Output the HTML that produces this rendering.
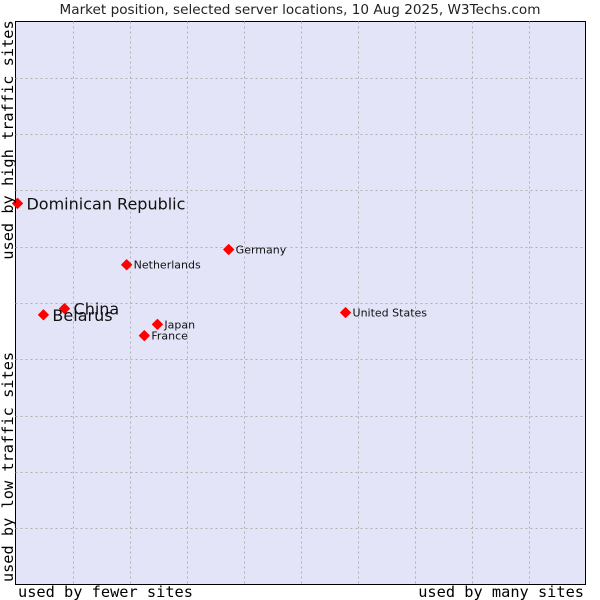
<!DOCTYPE html>
<html><head><meta charset="utf-8"><style>
body{margin:0;background:#fff;width:600px;height:600px;overflow:hidden}
svg{display:block}
</style></head><body>
<svg id="chart" width="600" height="600">
<text x="300" y="14" text-anchor="middle" font-family="DejaVu Sans, sans-serif" font-size="13.6" fill="#222">Market position, selected server locations, 10 Aug 2025, W3Techs.com</text>
<rect x="15.5" y="21.5" width="570" height="563" fill="#e4e4f8" stroke="#000" stroke-width="1"/>
<g id="grid"></g>
<g id="points"></g>
<text transform="translate(13,140) rotate(-90)" text-anchor="middle" font-family="DejaVu Sans Mono, Liberation Mono, monospace" font-size="15.3" fill="#000">used by high traffic sites</text>
<text transform="translate(13,467) rotate(-90)" text-anchor="middle" font-family="DejaVu Sans Mono, Liberation Mono, monospace" font-size="15.3" fill="#000">used by low traffic sites</text>
<text x="18" y="597" font-family="DejaVu Sans Mono, Liberation Mono, monospace" font-size="15.3" fill="#000">used by fewer sites</text>
<text x="584" y="597" text-anchor="end" font-family="DejaVu Sans Mono, Liberation Mono, monospace" font-size="15.3" fill="#000">used by many sites</text>
</svg>
<script>
const names=["Dominican Republic","China","Belarus","Netherlands","Germany","Japan","France","United States"];
const xValues=[0.35,8.6,4.9,19.5,37.4,24.9,22.6,57.9];
const yValues=[67.7,49.0,47.9,56.8,59.5,46.2,44.2,48.3];
const bigLabel=[true,true,true,false,false,false,false,false];
const L=15.5,T=21.5,W=570,H=563;
const sx=v=>L+v/100*W, sy=v=>T+H-v/100*H;
const NS="http://www.w3.org/2000/svg";
const grid=document.getElementById('grid');
for(let i=1;i<10;i++){
  const v=document.createElementNS(NS,'line');
  
  
  const x=Math.round(sx(i*10))+0.5;
  v.setAttribute('x1',x);v.setAttribute('x2',x);v.setAttribute('y1',T);v.setAttribute('y2',T+H);
  v.setAttribute('stroke','#b0b0b0');v.setAttribute('stroke-dasharray','2,3');
  grid.appendChild(v);
  const h=document.createElementNS(NS,'line');
  
  
  const y=Math.round(sy(i*10))+0.5;
  h.setAttribute('y1',y);h.setAttribute('y2',y);h.setAttribute('x1',L);h.setAttribute('x2',L+W);
  h.setAttribute('stroke','#b0b0b0');h.setAttribute('stroke-dasharray','2,3');
  grid.appendChild(h);
}
const pts=document.getElementById('points');
names.forEach((n,i)=>{
  const x=sx(xValues[i]),y=sy(yValues[i]);
  const d=document.createElementNS(NS,'path');
  
  
  d.setAttribute('d',`M${x-5},${y} L${x},${y-5} L${x+5},${y} L${x},${y+5}Z`);
  d.setAttribute('fill','#ff0000');
  d.setAttribute('stroke','#ff0000');
  d.setAttribute('stroke-width','1');
  d.setAttribute('stroke-linejoin','round');
  pts.appendChild(d);
  const t=document.createElementNS(NS,'text');
  
  
  t.setAttribute('x',x+(bigLabel[i]?9:7));
  t.setAttribute('y',y+(bigLabel[i]?6:4));
  t.setAttribute('font-family','DejaVu Sans, sans-serif');
  t.setAttribute('font-size',bigLabel[i]?'16':'11');
  t.setAttribute('fill','#111');
  t.textContent=n;
  pts.appendChild(t);
});
</script>
</body></html>
